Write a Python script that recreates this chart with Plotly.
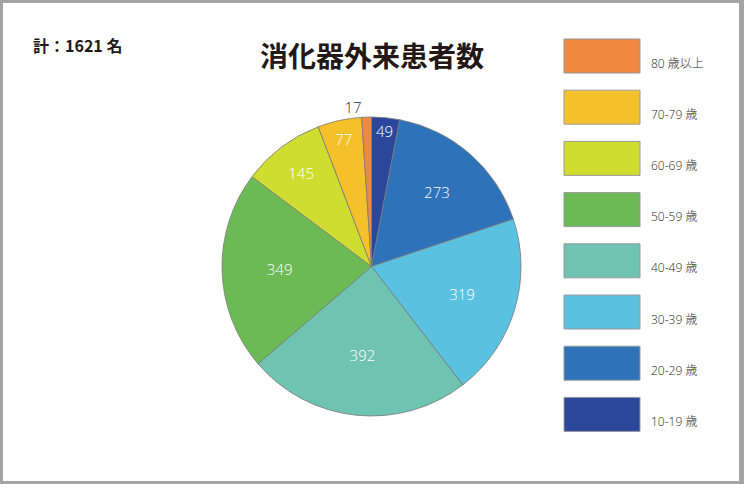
import plotly.graph_objs as go

# age groups, clockwise from 12 o'clock
age_groups = ['10-19 歳', '20-29 歳', '30-39 歳', '40-49 歳', '50-59 歳', '60-69 歳', '70-79 歳', '80 歳以上']
patients = [49, 273, 319, 392, 349, 145, 77, 17]
colors = ['#2A479C', '#2E72BA', '#5AC2E0', '#6FC3B3', '#6CBA55', '#CFDD31', '#F5C12B', '#F0883F']

chart_title = '消化器外来患者数'
total_text = '計：1621 名'

W, H = 744, 484
font_jp = 'Noto Sans CJK JP, Open Sans, sans-serif'
font_num = 'Open Sans, Noto Sans CJK JP, sans-serif'


def px(x, y):
    # pixel position -> paper coords
    return x / W, 1 - y / H


text_pos = ['outside' if v < 30 else 'inside' for v in patients]

trace_pie = go.Pie(labels=age_groups, values=patients, sort=False, direction='clockwise', rotation=0,
                   marker={'colors': colors, 'line': {'color': '#7a7a7a', 'width': 0.8}},
                   textinfo='value', textposition=text_pos, insidetextorientation='horizontal',
                   insidetextfont={'color': 'white', 'size': 15, 'family': font_num, 'weight': 300},
                   outsidetextfont={'color': '#2a2a2a', 'size': 15, 'family': font_num, 'weight': 300},
                   showlegend=False, hoverinfo='label+value',
                   domain={'x': [222 / W, 521 / W], 'y': [1 - 416 / H, 1 - 117 / H]})

shapes = [dict(type='rect', xref='paper', yref='paper', x0=3 / W, x1=739 / W, y0=1 - 481 / H, y1=1 - 3 / H,
               fillcolor='white', line={'width': 0}, layer='below')]
annotations = [
    dict(text='<b>' + chart_title + '</b>', x=372 / W, y=1 - 55 / H, xref='paper', yref='paper', showarrow=False,
         font={'family': font_jp, 'size': 28, 'color': '#231815'}, xanchor='center', yanchor='middle'),
    dict(text='<b>' + total_text + '</b>', x=31 / W, y=1 - 45 / H, xref='paper', yref='paper', showarrow=False,
         font={'family': font_jp, 'size': 16, 'color': '#231815'}, xanchor='left', yanchor='middle'),
]

# hand made legend, top to bottom = reverse order of slices
for i, (name, col) in enumerate(zip(age_groups[::-1], colors[::-1])):
    top = 39 + i * 51.2
    x0, y1 = px(564, top)
    x1, y0 = px(640, top + 34)
    shapes.append(dict(type='rect', xref='paper', yref='paper', x0=x0, x1=x1, y0=y0, y1=y1,
                       fillcolor=col, line={'color': '#9a9a9a', 'width': 1}))
    lx, ly = px(649, top + 24)
    annotations.append(dict(text=name, x=lx, y=ly, xref='paper', yref='paper', showarrow=False,
                            xanchor='left', yanchor='middle',
                            font={'family': font_num, 'size': 12, 'color': '#1e1e1e', 'weight': 300}))

layout = go.Layout(width=W, height=H, margin={'l': 0, 'r': 0, 't': 0, 'b': 0},
                   paper_bgcolor='#a4a4a4', shapes=shapes, annotations=annotations,
                   uniformtext={'minsize': 15, 'mode': 'show'})

fig = go.Figure(data=[trace_pie], layout=layout)
# page has a default 8px body margin, remove it so the figure fills the window
fig.write_html('out.html', config={'displayModeBar': False},
               post_script="document.body.style.margin='0';document.body.style.overflow='hidden';")
